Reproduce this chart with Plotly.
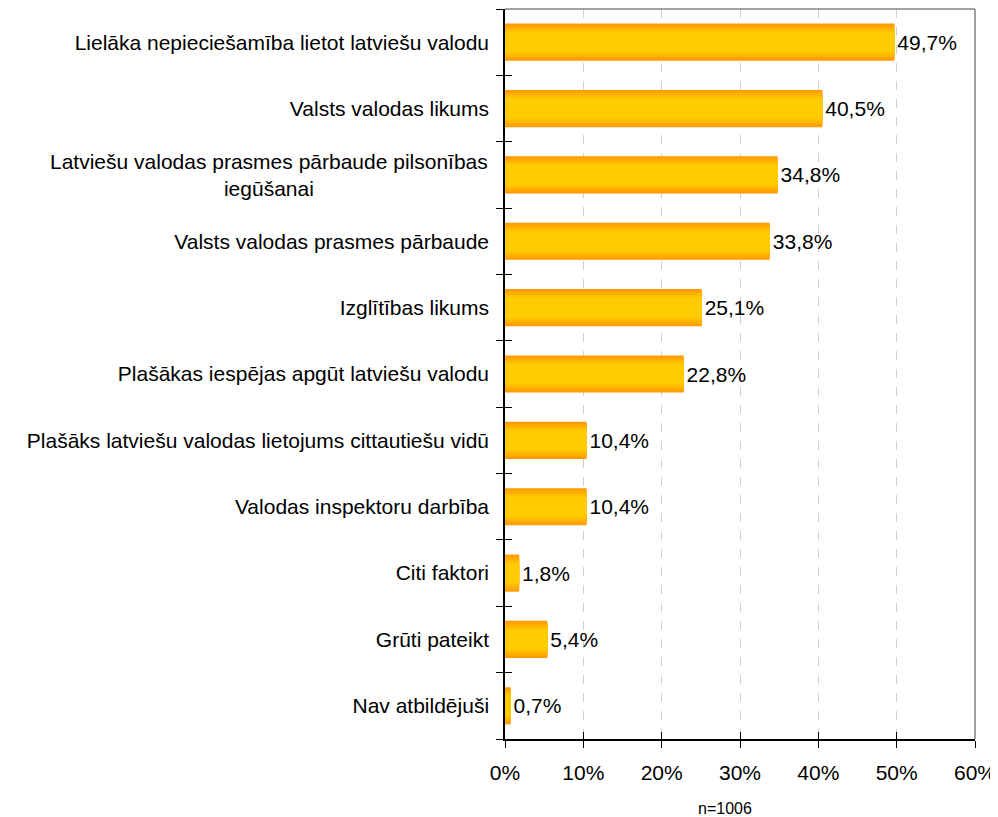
import plotly.graph_objects as go

categories = [
    "Lielāka nepieciešamība lietot latviešu valodu",
    "Valsts valodas likums",
    "Latviešu valodas prasmes pārbaude pilsonības<br>iegūšanai",
    "Valsts valodas prasmes pārbaude",
    "Izglītības likums",
    "Plašākas iespējas apgūt latviešu valodu",
    "Plašāks latviešu valodas lietojums cittautiešu vidū",
    "Valodas inspektoru darbība",
    "Citi faktori",
    "Grūti pateikt",
    "Nav atbildējuši",
]
values = [49.7, 40.5, 34.8, 33.8, 25.1, 22.8, 10.4, 10.4, 1.8, 5.4, 0.7]
x_ticks = [0, 10, 20, 30, 40, 50, 60]
x_ticklabels = ["0%", "10%", "20%", "30%", "40%", "50%", "60%"]
note = "n=1006"

FONT = "Liberation Sans, Arial, sans-serif"
FS = 21
BAR_W = 0.56
N_LAYERS = 14

def lerp(c1, c2, t):
    return "#%02X%02X%02X" % tuple(round(a + (b - a) * t) for a, b in zip(c1, c2))

outer = (255, 153, 0)
inner = (255, 204, 0)

fig = go.Figure()
for i in range(N_LAYERS):
    t = i / (N_LAYERS - 1)
    w = BAR_W * (1 - 0.75 * t)
    col = lerp(outer, inner, min(1.0, t * 1.6))
    fig.add_trace(go.Bar(
        y=categories, x=values, orientation="h", width=w,
        marker=dict(color=col, line=dict(width=0)),
        text=[("%.1f%%" % v).replace(".", ",") for v in values] if i == 0 else None,
        textposition="outside" if i == 0 else "none",
        textfont=dict(family=FONT, size=FS, color="#000000"),
        cliponaxis=False, hoverinfo="skip", showlegend=False,
    ))

# invisible trace for overlay axes carrying the inside half of the ticks
fig.add_trace(go.Bar(y=categories, x=values, orientation="h", xaxis="x2", yaxis="y2",
                     marker=dict(opacity=0), hoverinfo="skip", showlegend=False))

ticktext = [c if "<br>" not in c else "" for c in categories]

fig.update_layout(
    width=998, height=817,
    margin=dict(l=497, r=31, t=1, b=86),
    paper_bgcolor="white", plot_bgcolor="white",
    barmode="overlay", bargap=0.44,
    font=dict(family=FONT, size=FS, color="#000000"),
    xaxis=dict(
        range=[0, 60], tickvals=x_ticks, ticktext=x_ticklabels,
        showgrid=True, gridcolor="#D0D0D0", griddash="dash", gridwidth=1,
        showline=True, linecolor="#000000", linewidth=1.5,
        ticks="outside", ticklen=7, tickcolor="#000000", tickwidth=1,
        zeroline=False, tickfont=dict(size=FS, family=FONT), ticklabelstandoff=7,
    ),
    yaxis=dict(
        type="category", categoryorder="array", categoryarray=categories,
        range=[10.5, -0.5], tickson="boundaries",
        tickvals=categories, ticktext=ticktext,
        showgrid=False, showline=True, linecolor="#000000", linewidth=1.5,
        ticks="outside", ticklen=7, tickcolor="#000000", tickwidth=1,
        tickfont=dict(size=FS, family=FONT), ticklabelstandoff=10,
    ),
    xaxis2=dict(
        overlaying="x", range=[0, 60], tickvals=x_ticks, showticklabels=False,
        showgrid=False, zeroline=False, showline=False,
        ticks="inside", ticklen=7, tickcolor="#000000", tickwidth=1, side="bottom",
    ),
    yaxis2=dict(
        overlaying="y", type="category", categoryorder="array", categoryarray=categories,
        range=[10.5, -0.5], tickson="boundaries", showticklabels=False,
        showgrid=False, showline=False,
        ticks="inside", ticklen=7, tickcolor="#000000", tickwidth=1, side="left",
    ),
    shapes=[
        dict(type="line", xref="paper", yref="paper", x0=0, x1=1, y0=1, y1=1,
             line=dict(color="#808080", width=1.5)),
        dict(type="line", xref="paper", yref="paper", x0=1, x1=1, y0=0, y1=1,
             line=dict(color="#808080", width=1.5)),
    ],
    annotations=[
        dict(text=note, xref="paper", yref="paper", x=0.468, y=0, yshift=-69,
             yanchor="middle", showarrow=False, font=dict(size=16, family=FONT)),
        dict(text=categories[2], xref="paper", yref="y", x=0, xshift=-15, y=categories[2],
             xanchor="right", align="center", showarrow=False,
             font=dict(size=FS, family=FONT)),
    ],
)

fig.write_html("out.html", config={"displayModeBar": False})
